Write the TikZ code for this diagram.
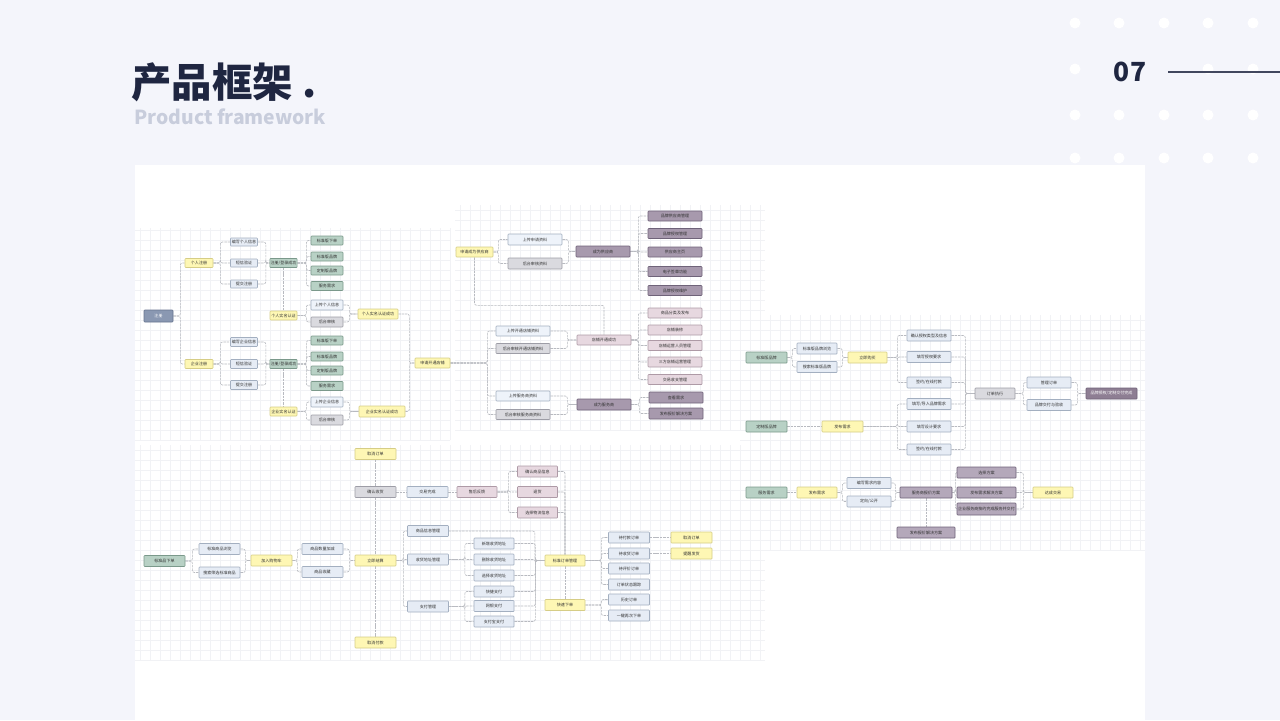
\documentclass[tikz,border=0pt]{standalone}
\usepackage{fontspec}
\setmainfont{Noto Sans CJK SC}
\usepackage{tikz}
\usetikzlibrary{calc}
\pgfdeclarelayer{background}
\pgfsetlayers{background,main}

\definecolor{pagebg}{HTML}{F4F5FB}
\definecolor{navy}{HTML}{1F2641}
\definecolor{subgray}{HTML}{C8CDDC}
\definecolor{gridcol}{HTML}{F1F2F5}
\definecolor{lncol}{HTML}{B8BAC0}
\definecolor{ylfill}{HTML}{FEF7B4}
\definecolor{yldraw}{HTML}{D6CD86}
\definecolor{ltfill}{HTML}{E6ECF5}
\definecolor{ltdraw}{HTML}{A3AFC0}
\definecolor{whfill}{HTML}{EEF3FA}
\definecolor{gyfill}{HTML}{DADADF}
\definecolor{gydraw}{HTML}{9D9DA6}
\definecolor{gnfill}{HTML}{B8D1C5}
\definecolor{gndraw}{HTML}{7B998B}
\definecolor{pufill}{HTML}{A799AD}
\definecolor{pudraw}{HTML}{6F6379}
\definecolor{pulight}{HTML}{B4A8BA}
\definecolor{pkfill}{HTML}{E7D8E0}
\definecolor{pkdraw}{HTML}{AE9AA6}
\definecolor{slfill}{HTML}{8A98B2}
\definecolor{sldraw}{HTML}{66748E}
\definecolor{dpfill}{HTML}{8E7E93}

\newcommand{\boxfnt}{\fontsize{2.3}{2.8}\selectfont}

\tikzset{
  bx/.style={draw, line width=0.35pt, inner sep=0.4pt, rounded corners=0.4pt,
    minimum height=0.2cm, font=\boxfnt, text=black!80},
  wd/.style={minimum width=#1*0.02cm},
  ht/.style={minimum height=#1*0.02cm},
  yb/.style={bx, fill=ylfill, draw=yldraw},
  lb/.style={bx, fill=ltfill, draw=ltdraw},
  wb/.style={bx, fill=whfill, draw=ltdraw},
  gyb/.style={bx, fill=gyfill, draw=gydraw},
  gnb/.style={bx, fill=gnfill, draw=gndraw},
  pb/.style={bx, fill=pufill, draw=pudraw},
  pb2/.style={bx, fill=pulight, draw=pudraw},
  kb/.style={bx, fill=pkfill, draw=pkdraw},
  zcb/.style={bx, fill=slfill, draw=sldraw, text=white},
  dpb/.style={bx, fill=dpfill, draw=pudraw, text=white},
  ln/.style={draw=lncol, line width=0.35pt, rounded corners=1.2pt,
    dash pattern=on 1.4pt off 0.5pt},
  gridln/.style={draw=gridcol, line width=0.3pt}
}

\begin{document}
\begin{tikzpicture}[x=0.02cm,y=-0.02cm]
\useasboundingbox (0,0) rectangle (1280,720);

\begin{pgfonlayer}{background}
\fill[pagebg] (0,0) rectangle (1280,720);
% dots top right
\foreach \x in {1075,1119,1164,1208,1253}
  \foreach \y in {23,115,158}
    \fill[white] (\x,\y) circle[radius=0.11cm];
\fill[white] (1075,69) circle[radius=0.11cm];
\fill[white] (1208,69) circle[radius=0.11cm];
\fill[white] (1253,69) circle[radius=0.11cm];
% canvas
\fill[white] (135,165) rectangle (1145,720);
% grids
\draw[gridln, step=0.2cm] (135,440) grid (450,228);
\draw[gridln, step=0.2cm] (455,430) grid (765,205);
\draw[gridln, step=0.2cm] (740,550) grid (1145,315);
\draw[gridln, step=0.2cm] (135,660) grid (765,445);
\end{pgfonlayer}

% header
\node (ttl) at (131,82) [anchor=west, inner sep=0pt, text=navy, font=\bfseries\fontsize{23}{23}\selectfont] {产品框架 .};
\node (sub) at (134,117) [anchor=west, inner sep=0pt, text=subgray, font=\bfseries\fontsize{11}{11}\selectfont] {Product framework};
\node (num) at (1130,72) [inner sep=0pt, text=navy, font=\bfseries\fontsize{15}{15}\selectfont] {07};
\draw[navy!85, line width=0.6pt] (1168,72) -- (1280,72);

% registration
\node (zc) at (158.5,316) [zcb,wd=29,ht=12] {注册};
\node (gr) at (199,263) [yb,wd=28,ht=9] {个人注册};
\node (gr1) at (244,242) [lb,wd=27,ht=8] {编写个人信息};
\node (gr2) at (244,263) [lb,wd=27,ht=8] {短信验证};
\node (gr3) at (244,284) [lb,wd=27,ht=8] {提交注册};
\node (grok) at (283.5,263) [gnb,wd=27,ht=9] {注册/登录成功};
\node (gg1) at (327,240.5) [gnb,wd=32,ht=9] {标准版下单};
\node (gg2) at (327,256.5) [gnb,wd=32,ht=9] {标准版品牌};
\node (gg3) at (327,270.5) [gnb,wd=32,ht=9] {定制版品牌};
\node (gg4) at (327,286) [gnb,wd=32,ht=9] {服务需求};
\node (grsm) at (283.5,315.5) [yb,wd=27,ht=9] {个人实名认证};
\node (grs1) at (327,305) [wb,wd=32,ht=10] {上传个人信息};
\node (grs2) at (327,322) [gyb,wd=32,ht=10] {后台审核};
\node (grcg) at (378,314) [yb,wd=40,ht=10] {个人实名认证成功};

\node (qy) at (199,364) [yb,wd=28,ht=9] {企业注册};
\node (qy1) at (244,342) [lb,wd=27,ht=9] {编写企业信息};
\node (qy2) at (244,364) [lb,wd=27,ht=9] {短信验证};
\node (qy3) at (244,385) [lb,wd=27,ht=9] {提交注册};
\node (qyok) at (283.5,364) [gnb,wd=27,ht=9] {注册/登录成功};
\node (qg1) at (327,340.5) [gnb,wd=32,ht=9] {标准版下单};
\node (qg2) at (327,356.5) [gnb,wd=32,ht=9] {标准版品牌};
\node (qg3) at (327,370.5) [gnb,wd=32,ht=9] {定制版品牌};
\node (qg4) at (327,386) [gnb,wd=32,ht=9] {服务需求};
\node (qysm) at (283.5,411.5) [yb,wd=27,ht=9] {企业实名认证};
\node (qys1) at (327,402) [wb,wd=32,ht=10] {上传企业信息};
\node (qys2) at (327,420) [gyb,wd=32,ht=10] {后台审核};
\node (qycg) at (382,411.5) [yb,wd=46,ht=11] {企业实名认证成功};
\node (kd) at (432.5,363) [yb,wd=35,ht=10] {申请开通店铺};

% supplier / shop / service
\node (gys) at (474.5,252) [yb,wd=37,ht=10] {申请成为供应商};
\node (gys1) at (535,239.5) [wb,wd=54,ht=11] {上传申请资料};
\node (gys2) at (535,263.5) [gyb,wd=54,ht=11] {后台审核资料};
\node (gyscg) at (603,251.5) [pb,wd=54,ht=11] {成为供应商};
\node (gp1) at (675,216) [pb,wd=54,ht=10] {品牌供应商管理};
\node (gp2) at (675,233.5) [pb,wd=54,ht=10] {品牌授权管理};
\node (gp3) at (675,252) [pb,wd=54,ht=10] {供应商主页};
\node (gp4) at (675,271.5) [pb,wd=54,ht=10] {电子签章功能};
\node (gp5) at (675,290.5) [pb,wd=54,ht=10] {品牌授权维护};

\node (kd1) at (523,331) [wb,wd=54,ht=10] {上传开通店铺资料};
\node (kd2) at (523,348.5) [gyb,wd=54,ht=10] {后台审核开通店铺资料};
\node (kdcg) at (604,340) [kb,wd=54,ht=10] {店铺开通成功};
\node (kp1) at (675,313) [kb,wd=54,ht=10] {商品分类及发布};
\node (kp2) at (675,330) [kb,wd=54,ht=10] {店铺装修};
\node (kp3) at (675,345.5) [kb,wd=54,ht=10] {店铺运营人员管理};
\node (kp4) at (675,362) [kb,wd=54,ht=10] {三方店铺运营管理};
\node (kp5) at (675,379.5) [kb,wd=54,ht=10] {交易收支管理};

\node (fw1) at (523,396) [wb,wd=54,ht=10] {上传服务商资料};
\node (fw2) at (523,414.5) [gyb,wd=54,ht=10] {后台审核服务商资料};
\node (fwcg) at (604,404.5) [pb,wd=54,ht=11] {成为服务商};
\node (fp1) at (676,397.5) [pb,wd=54,ht=11] {查看需求};
\node (fp2) at (676,413.5) [pb,wd=54,ht=11] {发布报价解决方案};

% brand orders
\node (bz) at (766.5,357.5) [gnb,wd=41,ht=11] {标准版品牌};
\node (bz1) at (817,348.5) [lb,wd=40,ht=11] {标准版品牌浏览};
\node (bz2) at (817,367) [lb,wd=40,ht=11] {搜索标准版品牌};
\node (bzgm) at (867.5,357.5) [yb,wd=39,ht=11] {立即购买};
\node (r1) at (929,335.5) [lb,wd=44,ht=11] {确认授权类型及信息};
\node (r2) at (929,357) [lb,wd=44,ht=11] {填写授权要求};
\node (r3) at (929,382.5) [lb,wd=44,ht=11] {签约/在线付款};
\node (r4) at (929,404) [lb,wd=44,ht=11] {填写/导入品牌需求};
\node (r5) at (929,426.5) [lb,wd=44,ht=11] {填写设计要求};
\node (r6) at (929,449.5) [lb,wd=44,ht=11] {签约/在线付款};
\node (dz) at (766.5,426.5) [gnb,wd=41,ht=11] {定制版品牌};
\node (dzfb) at (842.5,426.5) [yb,wd=41,ht=11] {发布需求};
\node (zx) at (995,393.5) [gyb,wd=40,ht=11] {订单执行};
\node (zx1) at (1049,382.5) [lb,wd=44,ht=11] {管理订单};
\node (zx2) at (1049,405) [lb,wd=44,ht=11] {品牌交付与验收};
\node (wc) at (1111.5,393.5) [dpb,wd=51,ht=11] {品牌授权/定制交付完成};

\node (fwxq) at (766.5,492.5) [gnb,wd=41,ht=11] {服务需求};
\node (fwfb) at (817,492.5) [yb,wd=40,ht=11] {发布需求};
\node (fb1) at (869,483) [lb,wd=44,ht=11] {编写需求内容};
\node (fb2) at (869,501.5) [lb,wd=44,ht=11] {定向/公开};
\node (bj) at (926,492.5) [pb2,wd=52,ht=11] {服务商报价方案};
\node (s1) at (986.5,472.5) [pb2,wd=59,ht=11] {选择方案};
\node (s2) at (986.5,492.5) [pb2,wd=59,ht=11] {发布需求解决方案};
\node (s3) at (986.5,509) [pb2,wd=59,ht=12] {企业服务商按约完成服务并交付};
\node (jy) at (1053,492.5) [yb,wd=40,ht=11] {达成交易};
\node (bjfa) at (926,532.5) [pb2,wd=58,ht=11] {发布报价解决方案};

% standard goods
\node (xd) at (164.5,561) [gnb,wd=41,ht=11] {标准品下单};
\node (xd1) at (219.5,549) [lb,wd=41,ht=11] {标准商品浏览};
\node (xd2) at (219.5,572.5) [lb,wd=41,ht=11] {搜索筛选标准商品};
\node (gwc) at (271.5,560.5) [yb,wd=41,ht=11] {加入购物车};
\node (gw1) at (322.5,549) [lb,wd=41,ht=11] {商品数量加减};
\node (gw2) at (322.5,572) [lb,wd=41,ht=11] {商品收藏};
\node (js) at (375.5,560.5) [yb,wd=41,ht=11] {立即结算};
\node (qxdd) at (375.5,454) [yb,wd=41,ht=11] {取消订单};
\node (qrsh) at (375.5,492) [gyb,wd=41,ht=11] {确认收货};
\node (qxfk) at (375.5,642.5) [yb,wd=41,ht=11] {取消付款};
\node (jywc) at (427.5,492) [lb,wd=41,ht=11] {交易完成};
\node (shfk) at (477,492) [kb,wd=40,ht=11] {售后反馈};
\node (sh1) at (537.5,471.5) [kb,wd=40,ht=11] {确认商品信息};
\node (sh2) at (537.5,492) [kb,wd=40,ht=11] {退货};
\node (sh3) at (537.5,512.5) [kb,wd=40,ht=11] {选择物流信息};
\node (gl1) at (428,531) [lb,wd=41,ht=11] {商品信息管理};
\node (gl2) at (428,559.5) [lb,wd=41,ht=11] {收货地址管理};
\node (gl3) at (428,606.5) [lb,wd=41,ht=11] {支付管理};
\node (ad1) at (494,543.5) [lb,wd=40,ht=11] {新增收货地址};
\node (ad2) at (494,559.5) [lb,wd=40,ht=11] {删除收货地址};
\node (ad3) at (494,575.5) [lb,wd=40,ht=11] {选择收货地址};
\node (zf1) at (494,591.5) [lb,wd=40,ht=11] {快捷支付};
\node (zf2) at (494,606) [lb,wd=40,ht=11] {网银支付};
\node (zf3) at (494,621.5) [lb,wd=40,ht=11] {支付宝支付};
\node (ddgl) at (565,560.5) [yb,wd=40,ht=11] {标准订单管理};
\node (ksxd) at (565,605) [yb,wd=40,ht=11] {快速下单};
\node (dd1) at (629,537.5) [lb,wd=41,ht=11] {待付款订单};
\node (dd2) at (629,553.5) [lb,wd=41,ht=11] {待收货订单};
\node (dd3) at (629,568.5) [lb,wd=41,ht=11] {待评价订单};
\node (dd4) at (629,584.5) [lb,wd=41,ht=11] {订单状态跟踪};
\node (dd5) at (629,599.5) [lb,wd=41,ht=11] {历史订单};
\node (dd6) at (629,615.5) [lb,wd=41,ht=11] {一键再次下单};
\node (qx) at (691.5,537.5) [yb,wd=41,ht=11] {取消订单};
\node (tx) at (691.5,553.5) [yb,wd=41,ht=11] {提醒发货};

\begin{pgfonlayer}{background}
% registration links
\foreach \c in {gr,qy} \draw[ln] (zc.east) -- ++(7,0) |- (\c.west);
\foreach \c in {gr1,gr2,gr3} \draw[ln] (gr.east) -- ++(7,0) |- (\c.west);
\foreach \c in {gr1,gr2,gr3} \draw[ln] (\c.east) -- ++(8,0) |- (grok.west);
\foreach \c in {gg1,gg2,gg3,gg4} \draw[ln] (grok.east) -- ++(9,0) |- (\c.west);
\draw[ln] (grok.south) -- (grsm.north);
\foreach \c in {grs1,grs2} \draw[ln] (grsm.east) -- ++(9,0) |- (\c.west);
\foreach \c in {grs1,grs2} \draw[ln] (\c.east) -- ++(6,0) |- (grcg.west);
\foreach \c in {qy1,qy2,qy3} \draw[ln] (qy.east) -- ++(7,0) |- (\c.west);
\foreach \c in {qy1,qy2,qy3} \draw[ln] (\c.east) -- ++(8,0) |- (qyok.west);
\foreach \c in {qg1,qg2,qg3,qg4} \draw[ln] (qyok.east) -- ++(9,0) |- (\c.west);
\draw[ln] (qyok.south) -- (qysm.north);
\foreach \c in {qys1,qys2} \draw[ln] (qysm.east) -- ++(9,0) |- (\c.west);
\foreach \c in {qys1,qys2} \draw[ln] (\c.east) -- ++(6,0) |- (qycg.west);
\draw[ln] (grcg.east) -- ++(11,0) |- (kd.west);
\draw[ln] (qycg.east) -- ++(4,0) |- (kd.west);
% supplier / shop / service links
\foreach \c in {gys1,gys2} \draw[ln] (gys.east) -- ++(5,0) |- (\c.west);
\foreach \c in {gys1,gys2} \draw[ln] (\c.east) -- ++(6,0) |- (gyscg.west);
\foreach \c in {gp1,gp2,gp3,gp4,gp5} \draw[ln] (gyscg.east) -- ++(8,0) |- (\c.west);
\draw[ln] (gys.south) -- ++(0,48) -| (kdcg.north);
\foreach \c in {kd1,kd2,fw1,fw2} \draw[ln] (kd.east) -- ++(37,0) |- (\c.west);
\foreach \c in {kd1,kd2} \draw[ln] (\c.east) -- ++(17,0) |- (kdcg.west);
\foreach \c in {kp1,kp2,kp3,kp4,kp5} \draw[ln] (kdcg.east) -- ++(7,0) |- (\c.west);
\foreach \c in {fw1,fw2} \draw[ln] (\c.east) -- ++(17,0) |- (fwcg.west);
\foreach \c in {fp1,fp2} \draw[ln] (fwcg.east) -- ++(8,0) |- (\c.west);
% brand order links
\foreach \c in {bz1,bz2} \draw[ln] (bz.east) -- ++(5,0) |- (\c.west);
\foreach \c in {bz1,bz2} \draw[ln] (\c.east) -- ++(5,0) |- (bzgm.west);
\foreach \c in {r1,r2,r3} \draw[ln] (bzgm.east) -- ++(10,0) |- (\c.west);
\draw[ln] (dz.east) -- (dzfb.west);
\foreach \c in {r4,r5,r6} \draw[ln] (dzfb.east) -- ++(34,0) |- (\c.west);
\foreach \c in {r1,r2,r3,r4,r5,r6} \draw[ln] (\c.east) -- ++(14,0) |- (zx.west);
\foreach \c in {zx1,zx2} \draw[ln] (zx.east) -- ++(8,0) |- (\c.west);
\foreach \c in {zx1,zx2} \draw[ln] (\c.east) -- ++(6,0) |- (wc.west);
\draw[ln] (fwxq.east) -- (fwfb.west);
\foreach \c in {fb1,fb2} \draw[ln] (fwfb.east) -- ++(5,0) |- (\c.west);
\foreach \c in {fb1,fb2} \draw[ln] (\c.east) -- ++(4,0) |- (bj.west);
\foreach \c in {s1,s2,s3} \draw[ln] (bj.east) -- ++(3,0) |- (\c.west);
\draw[ln] (bj.south) -- (bjfa.north);
\foreach \c in {s1,s2,s3} \draw[ln] (\c.east) -- ++(7,0) |- (jy.west);
% standard goods links
\foreach \c in {xd1,xd2} \draw[ln] (xd.east) -- ++(7,0) |- (\c.west);
\foreach \c in {xd1,xd2} \draw[ln] (\c.east) -- ++(5,0) |- (gwc.west);
\foreach \c in {gw1,gw2} \draw[ln] (gwc.east) -- ++(5,0) |- (\c.west);
\foreach \c in {gw1,gw2} \draw[ln] (\c.east) -- ++(6,0) |- (js.west);
\draw[ln] (qxdd.south) -- (qrsh.north);
\draw[ln] (qrsh.south) -- (js.north);
\draw[ln] (js.south) -- (qxfk.north);
\draw[ln] (qrsh.east) -- (jywc.west);
\draw[ln] (jywc.east) -- (shfk.west);
\foreach \c in {sh1,sh2,sh3} \draw[ln] (shfk.east) -- ++(11,0) |- (\c.west);
\foreach \c in {sh1,sh2,sh3} \draw[ln] (\c.east) -| (ddgl.north);
\foreach \c in {gl1,gl2,gl3} \draw[ln] (js.east) -- ++(7,0) |- (\c.west);
\foreach \c in {ad1,ad2,ad3} \draw[ln] (gl2.east) -- ++(16,0) |- (\c.west);
\foreach \c in {zf1,zf2,zf3} \draw[ln] (gl3.east) -- ++(16,0) |- (\c.west);
\draw[ln] (gl1.east) -- ++(86,0) |- (ddgl.west);
\foreach \c in {ad1,ad2,ad3,zf1,zf2,zf3} \draw[ln] (\c.east) -- ++(21,0) |- (ddgl.west);
\draw[ln] (ddgl.south) -- (ksxd.north);
\foreach \c in {dd1,dd2,dd3,dd4} \draw[ln] (ddgl.east) -- ++(16,0) |- (\c.west);
\foreach \c in {dd5,dd6} \draw[ln] (ksxd.east) -- ++(16,0) |- (\c.west);
\draw[ln] (dd1.east) -- (qx.west);
\draw[ln] (dd2.east) -- (tx.west);
\end{pgfonlayer}
\end{tikzpicture}
\end{document}
